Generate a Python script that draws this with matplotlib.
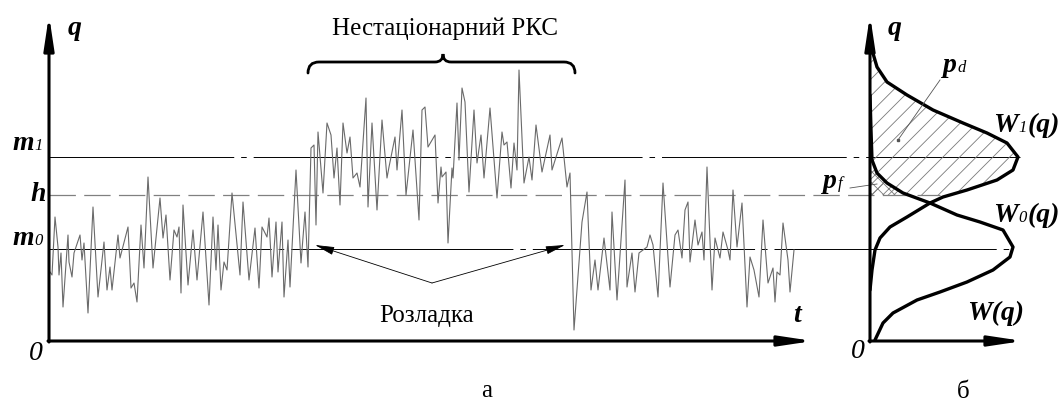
import matplotlib
matplotlib.use("Agg")
import matplotlib.pyplot as plt
from matplotlib.patches import Rectangle, PathPatch
from matplotlib.path import Path

plt.rcParams["font.family"] = ["Liberation Serif", "DejaVu Serif"]
plt.rcParams["hatch.linewidth"] = 0.6
plt.rcParams["lines.scale_dashes"] = False

# realization q(t), panel "а"
t = [1, 3, 6, 9, 10, 12, 14, 19, 20, 23, 25, 31, 33, 35, 39, 44, 49, 55, 58, 61,
     63, 69, 71, 79, 82, 85, 88, 92, 95, 99, 104, 111, 114, 117, 121, 125, 128, 130, 132, 134,
     139, 144, 148, 154, 160, 164, 167, 169, 172, 175, 178, 183, 191, 194, 200, 206, 210, 213, 218, 220,
     223, 227, 229, 233, 235, 239, 241, 247, 252, 256, 259, 262, 265, 267, 269, 274, 278, 282, 285, 288,
     291, 294, 298, 301, 304, 308, 311, 317, 319, 323, 328, 333, 338, 340, 346, 348, 353, 357, 364, 370,
     373, 376, 379, 386, 389, 392, 393, 397, 399, 403, 404, 408, 410, 413, 416, 420, 425, 428, 432, 435,
     441, 448, 453, 455, 458, 462, 465, 468, 470, 475, 480, 483, 487, 493, 501, 503, 513, 518, 521, 525,
     533, 538, 542, 546, 549, 555, 561, 563, 568, 576, 578, 583, 586, 590, 598, 601, 604, 609, 614, 621,
     626, 629, 633, 636, 639, 641, 646, 649, 653, 655, 658, 663, 666, 671, 674, 679, 681, 684, 688, 693,
     698, 701, 705, 710, 714, 719, 724, 726, 728, 731, 734, 739, 741, 745]
q = [69, 66, 124, 94, 66, 88, 34, 106, 79, 64, 88, 106, 81, 98, 28, 134, 44, 99, 51, 74,
     51, 106, 83, 114, 53, 58, 39, 116, 73, 164, 73, 143, 103, 126, 61, 111, 104, 114, 48, 136,
     56, 111, 61, 129, 36, 124, 71, 116, 51, 79, 71, 148, 66, 139, 61, 113, 53, 114, 104, 123,
     64, 119, 69, 119, 44, 101, 54, 171, 78, 129, 74, 193, 196, 116, 209, 148, 218, 206, 163, 193,
     136, 218, 188, 204, 163, 168, 154, 243, 134, 218, 131, 221, 163, 174, 204, 171, 231, 146, 211, 121,
     231, 234, 194, 206, 138, 174, 164, 169, 98, 173, 163, 238, 181, 253, 239, 149, 231, 178, 206, 163,
     233, 143, 209, 196, 199, 153, 198, 171, 271, 158, 184, 161, 216, 169, 206, 171, 203, 154, 168, 11,
     119, 149, 51, 81, 51, 103, 51, 129, 41, 161, 54, 88, 49, 88, 94, 106, 96, 44, 158, 54,
     106, 111, 83, 131, 139, 79, 121, 96, 109, 81, 174, 51, 103, 83, 109, 91, 81, 151, 94, 138,
     34, 84, 71, 44, 121, 58, 73, 39, 69, 66, 118, 81, 49, 91]

# levels
m0 = 92
h = 146
m1 = 184

# densities, panel "б"
q_w1 = [301, 291, 274, 259, 246, 231, 218, 208, 198, 184, 171, 161, 151, 144, 138, 124, 114, 103, 91, 71, 51]
w1 = [0, 2, 7, 17, 37, 63, 93, 117, 137, 148, 143, 127, 97, 73, 60, 37, 20, 10, 5, 2, 0]
q_w0 = [246, 211, 181, 168, 158, 148, 138, 126, 119, 111, 94, 84, 71, 59, 49, 41, 28, 18, 1]
w0 = [0, 1, 2, 7, 17, 33, 60, 87, 110, 133, 143, 140, 123, 97, 70, 47, 23, 13, 5]

W, H = 1059, 408
fig = plt.figure(figsize=(W / 100, H / 100), dpi=100)
ax1 = fig.add_axes([49 / W, 67 / H, 781 / W, 336 / H])
ax1.set_xlim(0, 781)
ax1.set_ylim(0, 336)
ax1.axis("off")
ax2 = fig.add_axes([870 / W, 67 / H, 189 / W, 336 / H])
ax2.set_xlim(0, 189)
ax2.set_ylim(0, 336)
ax2.axis("off")

arrow = dict(arrowstyle="-|>,head_length=2.0,head_width=0.3", lw=2.2, color="k",
             shrinkA=0, shrinkB=0)

# axes with arrows
ax1.annotate("", xy=(0, 326), xytext=(0, -1), arrowprops=arrow)
ax1.annotate("", xy=(764, 0), xytext=(-1, 0), arrowprops=arrow)
ax2.annotate("", xy=(0, 326), xytext=(0, -1), arrowprops=arrow)
ax2.annotate("", xy=(153, 0), xytext=(-1, 0), arrowprops=arrow)

# levels
ax1.plot([0, 971], [m1, m1], color="k", lw=0.7, dashes=(133, 5, 4, 5), clip_on=False)
ax1.plot([0, 891], [h, h], color="#808080", lw=0.9, dashes=(19, 6), clip_on=False)
ax1.plot([0, 964], [m0, m0], color="k", lw=0.7, dashes=(160, 5, 4, 5), clip_on=False)

# signal
ax1.plot(t, q, color="#6a6a6a", lw=0.8)

# brace
verts = [(259, 268), (259, 279), (270, 279), (386, 279), (394, 279), (394, 287),
         (394, 279), (402, 279), (515, 279), (526, 279), (526, 268)]
codes = [Path.MOVETO, Path.CURVE3, Path.CURVE3, Path.LINETO, Path.CURVE3, Path.CURVE3,
         Path.CURVE3, Path.CURVE3, Path.LINETO, Path.CURVE3, Path.CURVE3]
ax1.add_patch(PathPatch(Path(verts, codes), fill=False, lw=2.0, color="k",
                        capstyle="round"))

# arrows "Розладка"
thin = dict(arrowstyle="-|>,head_length=1.2,head_width=0.25", lw=0.6, color="k",
            shrinkA=0, shrinkB=0)
ax1.annotate("", xy=(266, 96), xytext=(383, 58), arrowprops=thin)
ax1.annotate("", xy=(516, 96), xytext=(383, 58), arrowprops=thin)

# hatched areas
clip = Rectangle((-5, h), 200, 200, transform=ax2.transData)
pd_fill = ax2.fill_betweenx(q_w1, 0, w1, facecolor="none", edgecolor="#7a7a7a",
                            hatch="//", linewidth=0)
pd_fill.set_clip_path(clip)
clip2 = Rectangle((-5, h), 200, 200, transform=ax2.transData)
pf_fill = ax2.fill_betweenx(q_w0, 0, w0, facecolor="none", edgecolor="#7a7a7a",
                            hatch="xxx", linewidth=0)
pf_fill.set_clip_path(clip2)

# densities
ax2.plot(w1, q_w1, color="k", lw=2.4, solid_capstyle="round")
ax2.plot(w0, q_w0, color="k", lw=2.4, solid_capstyle="round")

# leaders
ax2.plot([70, 28], [261, 201], color="#555555", lw=0.6, clip_on=False)
ax2.plot([28], [201], marker="s", ms=2, color="#555555")
ax2.plot([-20, 7], [153, 157], color="#555555", lw=0.6, clip_on=False)


def label(ax, x, y, main, sub="", rest="", size=20, subsize=12):
    kw = dict(fontsize=size, fontweight="bold", fontstyle="italic")
    t1 = ax.text(x, y, main, ha="left", va="baseline", clip_on=False, **kw)
    if sub:
        t2 = ax.annotate(sub, xy=(1, 0), xycoords=t1, xytext=(0.5, 1.7),
                         textcoords="offset points", fontsize=subsize,
                         fontstyle="italic", va="bottom", ha="left")
        if rest:
            ax.annotate(rest, xy=(1, 0), xycoords=t2, xytext=(0.5, -1.7),
                        textcoords="offset points", va="bottom", ha="left", **kw)


# labels panel "а"
label(ax1, 19, 306, "q")
label(ax1, -37, 191, "m", "1")
label(ax1, -19, 140, "h")
label(ax1, -37, 96, "m", "0")
label(ax1, 744, 19, "t")
ax1.text(-6, -19, "0", fontsize=20, fontstyle="italic", ha="right", va="baseline")
ax1.text(396, 306, "Нестаціонарний РКС", fontsize=18, ha="center", va="baseline")
ax1.text(378, 19, "Розладка", fontsize=18, ha="center", va="baseline")
ax1.text(438, -56, "а", fontsize=18, ha="center", va="baseline", clip_on=False)

# labels panel "б"
label(ax2, 18, 306, "q")
label(ax2, 73, 269, "p", "d")
label(ax2, -47, 153, "p", "f")
label(ax2, 123, 209, "W", "1", "(q)")
label(ax2, 123, 119, "W", "0", "(q)")
label(ax2, 97, 21, "W(q)")
ax2.text(-5, -17, "0", fontsize=20, fontstyle="italic", ha="right", va="baseline")
ax2.text(93, -57, "б", fontsize=18, ha="center", va="baseline", clip_on=False)

fig.savefig("out.png", dpi=100)
